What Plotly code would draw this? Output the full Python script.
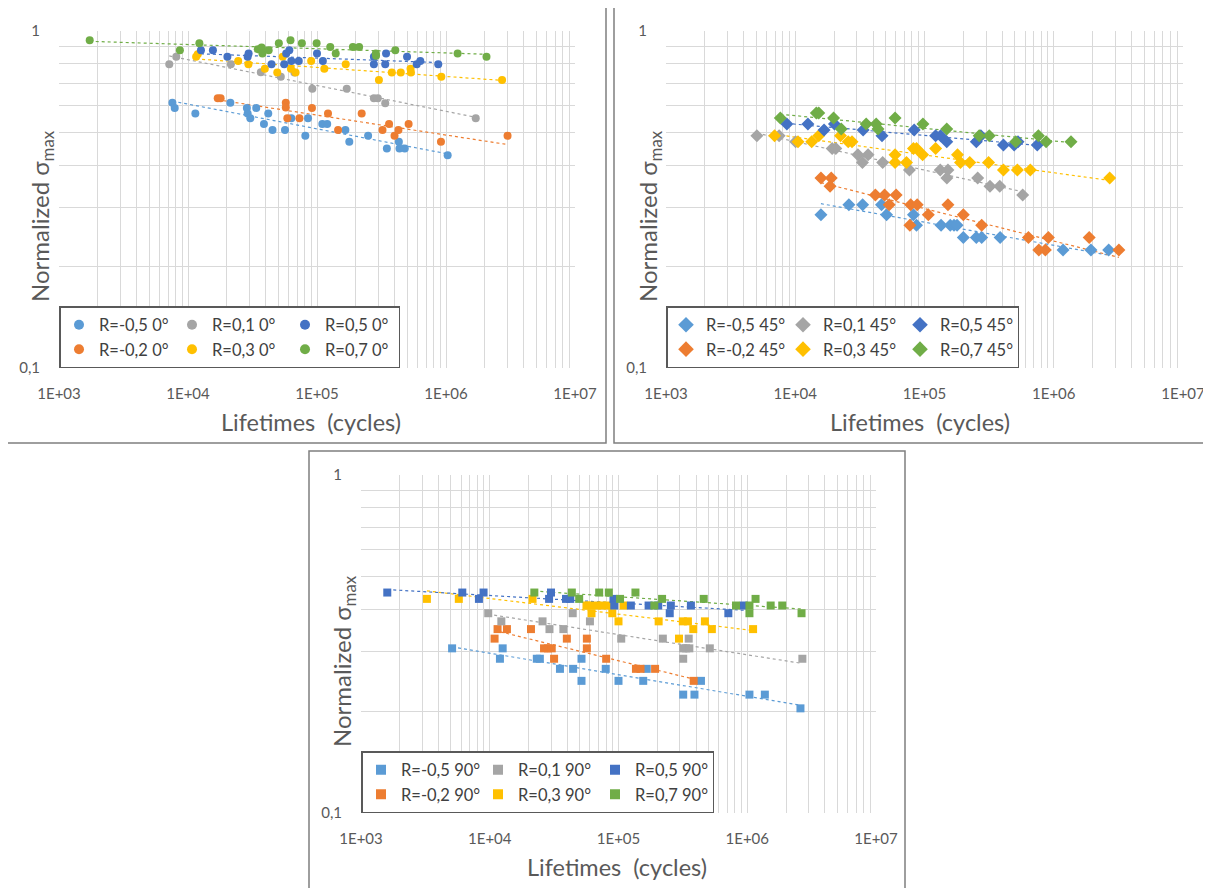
import numpy as np
import plotly.graph_objects as go

# ---------------- data: 0 deg (circles) ----------------
x_0_Rm05 = [7570, 7890, 11400, 21300, 28600, 29000, 30400, 33800, 38800, 41900, 45200, 56500, 63200, 81200, 85200,
            110000, 120000, 166000, 178000, 249000, 348000, 431000, 436000, 479000, 1030000]
y_0_Rm05 = [0.612, 0.591, 0.569, 0.612, 0.591, 0.569, 0.551, 0.591, 0.530, 0.569, 0.508, 0.508, 0.551, 0.489, 0.551,
            0.530, 0.530, 0.508, 0.469, 0.489, 0.448, 0.469, 0.448, 0.448, 0.428]
x_0_Rm02 = [17000, 17900, 57300, 57300, 58900, 73100, 91400, 121700, 145700, 222000, 322000, 362000, 399000, 428000,
            513000, 914000, 3000000]
y_0_Rm02 = [0.632, 0.632, 0.612, 0.593, 0.551, 0.551, 0.591, 0.569, 0.508, 0.569, 0.508, 0.530, 0.489, 0.508,
            0.530, 0.469, 0.489]
x_0_R01 = [7160, 8110, 21500, 36700, 52400, 66800, 92000, 170000, 276000, 296000, 338000, 1700000]
y_0_R01 = [0.797, 0.838, 0.797, 0.755, 0.731, 0.753, 0.674, 0.674, 0.632, 0.632, 0.610, 0.551]
x_0_R03 = [11560, 11900, 24500, 29400, 39400, 49200, 54200, 62800, 68200, 90100, 114000, 167000, 302000, 380000,
           446000, 531000, 535000, 920000, 2720000]
y_0_R03 = [0.838, 0.853, 0.815, 0.797, 0.772, 0.753, 0.838, 0.772, 0.753, 0.815, 0.772, 0.797, 0.715, 0.753,
           0.753, 0.772, 0.753, 0.731, 0.715]
x_0_R05 = [12600, 15600, 20200, 29000, 29500, 44400, 55700, 57700, 61000, 63200, 72200, 100000, 111000, 276000,
           276000, 338000, 343000, 499000, 593000, 632000, 871000]
y_0_R05 = [0.877, 0.877, 0.838, 0.838, 0.857, 0.797, 0.797, 0.857, 0.877, 0.815, 0.815, 0.857, 0.815, 0.838,
           0.797, 0.797, 0.857, 0.838, 0.797, 0.815, 0.797]
x_0_R07 = [1730, 8650, 12250, 34750, 37200, 37750, 42200, 50600, 62300, 76300, 99300, 126700, 139700, 189800,
           212000, 285700, 287000, 404500, 1230000, 2060000]
y_0_R07 = [0.938, 0.877, 0.919, 0.883, 0.893, 0.857, 0.877, 0.919, 0.938, 0.919, 0.919, 0.897, 0.857, 0.897,
           0.897, 0.857, 0.844, 0.877, 0.857, 0.838]

# ---------------- data: 45 deg (diamonds) ----------------
x_45_Rm05 = [15800, 26000, 33200, 46500, 50900, 82100, 86700, 134300, 158200, 169200, 178700, 199600, 251700, 277000,
             384600, 1180000, 1940000, 2660000]
y_45_Rm05 = [0.285, 0.305, 0.305, 0.305, 0.285, 0.285, 0.265, 0.265, 0.265, 0.265, 0.265, 0.244, 0.244, 0.244,
             0.244, 0.224, 0.224, 0.224]
x_45_Rm02 = [15800, 19000, 18600, 41700, 49100, 53300, 60300, 78200, 87800, 77100, 107000, 151800, 199600, 277000,
             637000, 766000, 861000, 909000, 1880000, 3190000]
y_45_Rm02 = [0.366, 0.366, 0.346, 0.326, 0.326, 0.305, 0.326, 0.305, 0.305, 0.265, 0.285, 0.305, 0.285, 0.265,
             0.244, 0.224, 0.224, 0.244, 0.244, 0.224]
x_45_R01 = [5050, 7500, 10070, 19300, 20600, 30500, 33100, 36600, 47500, 76500, 132400, 151800, 149000, 258000,
            321000, 382000, 575000]
y_45_R01 = [0.489, 0.489, 0.469, 0.448, 0.448, 0.429, 0.407, 0.429, 0.407, 0.387, 0.387, 0.387, 0.366, 0.366,
            0.346, 0.346, 0.326]
x_45_R03 = [6920, 10500, 13400, 15200, 22400, 25700, 27500, 59200, 59200, 72600, 82100, 86700, 96700, 121900,
            180000, 190000, 224000, 313000, 408000, 523000, 659000, 2710000]
y_45_R03 = [0.489, 0.469, 0.469, 0.489, 0.489, 0.469, 0.469, 0.429, 0.407, 0.407, 0.448, 0.448, 0.429, 0.448,
            0.429, 0.407, 0.407, 0.407, 0.387, 0.387, 0.387, 0.366]
x_45_R05 = [8610, 12530, 16700, 20100, 33500, 46900, 83200, 121900, 133300, 148600, 251700, 273000, 408000, 494000,
            529000, 745000]
y_45_R05 = [0.530, 0.530, 0.508, 0.530, 0.508, 0.489, 0.508, 0.489, 0.489, 0.469, 0.469, 0.489, 0.459, 0.459,
            0.469, 0.459]
x_45_R07 = [7660, 14550, 15200, 19800, 22700, 35400, 42300, 43700, 59200, 97300, 148600, 265000, 317000, 508000,
            760000, 873000, 1360000]
y_45_R07 = [0.552, 0.571, 0.571, 0.552, 0.512, 0.530, 0.530, 0.512, 0.552, 0.530, 0.512, 0.489, 0.489, 0.469,
            0.489, 0.469, 0.469]

# ---------------- data: 90 deg (squares) ----------------
x_90_Rm05 = [5100, 12600, 12000, 23200, 24500, 35100, 44400, 51600, 51600, 79600, 100000, 155600, 165700, 318000,
             389000, 437000, 1040000, 1370000, 2590000]
y_90_Rm05 = [0.307, 0.307, 0.286, 0.286, 0.286, 0.267, 0.267, 0.286, 0.246, 0.267, 0.246, 0.246, 0.267, 0.224,
             0.224, 0.246, 0.224, 0.224, 0.204]
x_90_Rm02 = [10900, 11500, 13600, 20900, 26400, 28300, 30300, 31600, 39700, 56800, 56800, 80200, 136600, 148300,
             192400, 383600]
y_90_Rm02 = [0.328, 0.350, 0.350, 0.350, 0.307, 0.307, 0.307, 0.286, 0.328, 0.328, 0.307, 0.286, 0.267, 0.267,
             0.267, 0.246]
x_90_R01 = [9730, 12300, 25700, 29100, 37300, 44100, 60000, 105000, 221000, 318000, 318000, 335000, 351000, 355000,
            512000, 2680000]
y_90_R01 = [0.390, 0.369, 0.369, 0.350, 0.350, 0.390, 0.369, 0.328, 0.328, 0.307, 0.286, 0.307, 0.328, 0.307,
            0.307, 0.286]
x_90_R03 = [3250, 5750, 21500, 56400, 59000, 61700, 67900, 74300, 82400, 89500, 100000, 109400, 205000, 295000,
            316000, 346000, 381000, 469000, 531000, 1110000]
y_90_R03 = [0.430, 0.430, 0.430, 0.411, 0.411, 0.390, 0.411, 0.411, 0.411, 0.390, 0.369, 0.411, 0.369, 0.328,
            0.369, 0.369, 0.350, 0.369, 0.350, 0.350]
x_90_R05 = [1600, 6120, 8240, 8950, 28900, 29900, 39100, 42200, 91400, 92700, 124700, 171300, 203500, 250000,
            255000, 365000, 713000, 939000]
y_90_R05 = [0.449, 0.449, 0.430, 0.449, 0.430, 0.449, 0.430, 0.430, 0.430, 0.411, 0.411, 0.411, 0.411, 0.390,
            0.411, 0.411, 0.390, 0.411]
x_90_R07 = [22200, 43400, 49500, 70800, 84100, 102800, 135400, 189800, 218000, 459000, 818000, 1040000, 1040000,
            1160000, 1520000, 1870000, 2640000]
y_90_R07 = [0.449, 0.449, 0.430, 0.449, 0.449, 0.430, 0.449, 0.411, 0.430, 0.430, 0.411, 0.411, 0.390, 0.430,
            0.411, 0.411, 0.390]

R_labels = ["R=-0,5", "R=-0,2", "R=0,1", "R=0,3", "R=0,5", "R=0,7"]
colors = ["#5B9BD5", "#ED7D31", "#A5A5A5", "#FFC000", "#4472C4", "#70AD47"]
angles = ["0°", "45°", "90°"]
x_tick_vals = [1e3, 1e4, 1e5, 1e6, 1e7]
x_tick_text = ["1E+03", "1E+04", "1E+05", "1E+06", "1E+07"]
y_tick_vals = [0.1, 1]
y_tick_text = ["0,1", "1"]
x_title = "Lifetimes  (cycles)"
y_title = "Normalized σ<sub>max</sub>"

series = [
    [(x_0_Rm05, y_0_Rm05), (x_0_Rm02, y_0_Rm02), (x_0_R01, y_0_R01), (x_0_R03, y_0_R03), (x_0_R05, y_0_R05), (x_0_R07, y_0_R07)],
    [(x_45_Rm05, y_45_Rm05), (x_45_Rm02, y_45_Rm02), (x_45_R01, y_45_R01), (x_45_R03, y_45_R03), (x_45_R05, y_45_R05), (x_45_R07, y_45_R07)],
    [(x_90_Rm05, y_90_Rm05), (x_90_Rm02, y_90_Rm02), (x_90_R01, y_90_R01), (x_90_R03, y_90_R03), (x_90_R05, y_90_R05), (x_90_R07, y_90_R07)],
]

# ---------------- layout geometry (screen pixels) ----------------
W, H = 1211, 888
OFF = 8  # page body margin
symbols = ["circle", "diamond", "square"]
msizes = [8, 10, 8]
leg_msizes = [10, 12, 10]
leg_entrywidth = [68, 72, 72]
plot_px = [(59, 31, 575, 368), (666, 31, 1183, 368), (361, 475, 876, 813)]
border_px = [(6, 6, 606, 443), (614, 6, 1207, 443), (309, 451, 905, 895)]
ytitle_px = [(41, 216), (649, 216), (343, 661)]
xtitle_px = [(311, 422), (920, 422), (617, 867)]

FONT = "Lato"
GRAY = "#595959"


def px2x(p):
    return (p - OFF) / W


def px2y(p):
    return 1 - (p - OFF) / H


fig = go.Figure()
group_of = [0, 0, 1, 1, 2, 2]
for pi in range(3):
    ax = "" if pi == 0 else str(pi + 1)
    leg = "legend" if pi == 0 else "legend" + str(pi + 1)
    for si, (xs, ys) in enumerate(series[pi]):
        # power-law trendline (least squares in log-log space)
        b, a = np.polyfit(np.log10(xs), np.log10(ys), 1)
        xe = np.array([min(xs), max(xs)], dtype=float)
        fig.add_trace(go.Scatter(
            x=xe, y=10 ** (a + b * np.log10(xe)), mode="lines",
            line=dict(color=colors[si], width=1.2, dash="dot"),
            xaxis="x" + ax, yaxis="y" + ax, showlegend=False, hoverinfo="skip",
        ))
    for si, (xs, ys) in enumerate(series[pi]):
        fig.add_trace(go.Scatter(
            x=xs, y=ys, mode="markers", name=f"{R_labels[si]} {angles[pi]}",
            marker=dict(symbol=symbols[pi], size=msizes[pi], color=colors[si], line=dict(width=0)),
            xaxis="x" + ax, yaxis="y" + ax, showlegend=False,
        ))
    for si in range(6):
        # legend entry (larger symbol, as in the reference)
        fig.add_trace(go.Scatter(
            x=[None], y=[None], mode="markers", name=f"{R_labels[si]} {angles[pi]}",
            marker=dict(symbol=symbols[pi], size=leg_msizes[pi], color=colors[si], line=dict(width=0)),
            xaxis="x" + ax, yaxis="y" + ax, legend=leg, legendgroup=f"p{pi}g{group_of[si]}",
        ))

layout = dict(
    width=W, height=H, margin=dict(l=0, r=0, t=0, b=0, pad=0),
    paper_bgcolor="white", plot_bgcolor="white",
    font=dict(family=FONT, color=GRAY),
    shapes=[], annotations=[],
)

grid_x = []
for d in range(3, 7):
    for k in range(1, 10):
        grid_x.append(k * 10 ** d)
grid_x.append(1e7)
grid_y = [k / 10 for k in range(1, 11)]

for pi in range(3):
    ax = "" if pi == 0 else str(pi + 1)
    x0, y0, x1, y1 = plot_px[pi]
    xt = [x_tick_text[x_tick_vals.index(v)] if v in x_tick_vals else "" for v in grid_x]
    yt = []
    for v in grid_y:
        lab = ""
        for tv, tt in zip(y_tick_vals, y_tick_text):
            if abs(v - tv) < 1e-9:
                lab = tt
        yt.append(lab)
    layout["xaxis" + ax] = dict(
        type="log", range=[3, 7], domain=[px2x(x0), px2x(x1)], anchor="y" + ax,
        tickmode="array", tickvals=grid_x, ticktext=xt, showgrid=True, gridcolor="#d9d9d9", gridwidth=1,
        zeroline=False, showline=False, ticks="", tickfont=dict(size=15, color=GRAY, family=FONT),
        ticklabelstandoff=15, automargin=False, fixedrange=True,
    )
    layout["yaxis" + ax] = dict(
        type="log", range=[-1, 0], domain=[px2y(y1), px2y(y0)], anchor="x" + ax,
        tickmode="array", tickvals=grid_y, ticktext=yt, showgrid=True, gridcolor="#d9d9d9", gridwidth=1,
        zeroline=False, showline=False, ticks="", tickfont=dict(size=15, color=GRAY, family=FONT),
        ticklabelstandoff=18, automargin=False, fixedrange=True,
    )
    leg = "legend" if pi == 0 else "legend" + str(pi + 1)
    layout[leg] = dict(
        orientation="h", traceorder="grouped", x=px2x(x0), y=px2y(y1), xanchor="left", yanchor="bottom",
        xref="paper", yref="paper", entrywidth=leg_entrywidth[pi],
        bgcolor="white", bordercolor=GRAY, borderwidth=1.5, font=dict(size=16.5, color="#404040", family=FONT),
        tracegroupgap=0, itemclick=False, itemdoubleclick=False,
    )
    bx0, by0, bx1, by1 = border_px[pi]
    layout["shapes"].append(dict(type="rect", xref="paper", yref="paper", x0=px2x(bx0), x1=px2x(bx1),
                                 y0=px2y(by1), y1=px2y(by0), line=dict(color="#7f7f7f", width=1.5),
                                 layer="above"))
    tx, ty = ytitle_px[pi]
    layout["annotations"].append(dict(text=y_title, textangle=-90, x=px2x(tx), y=px2y(ty),
                                      xanchor="center", yanchor="middle",
                                      xref="paper", yref="paper", showarrow=False,
                                      font=dict(size=24, color=GRAY, family=FONT)))
    tx, ty = xtitle_px[pi]
    layout["annotations"].append(dict(text=x_title, x=px2x(tx), y=px2y(ty),
                                      xanchor="center", yanchor="middle",
                                      xref="paper", yref="paper", showarrow=False,
                                      font=dict(size=23.5, color=GRAY, family=FONT)))

fig.update_layout(**layout)
fig.write_html("out.html")
